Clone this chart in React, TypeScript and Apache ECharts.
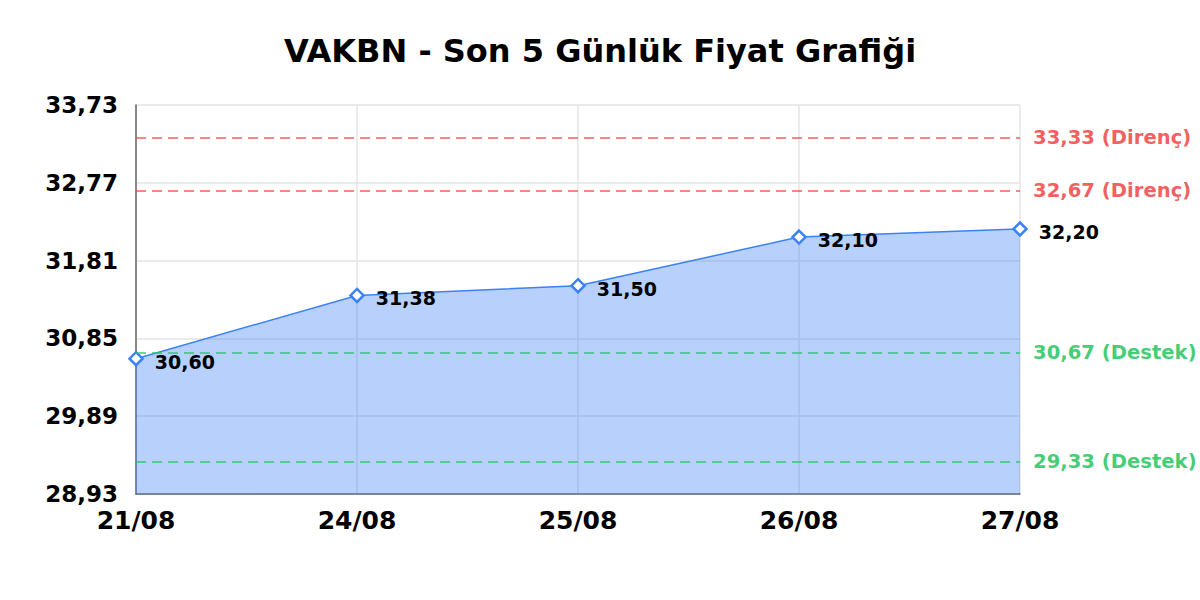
import { useEffect, useRef } from 'react';
import * as echarts from 'echarts';

const DATES = ['21/08', '24/08', '25/08', '26/08', '27/08'];
const PRICES = [30.6, 31.38, 31.5, 32.1, 32.2];
const Y_TICKS = [28.93, 29.89, 30.85, 31.81, 32.77, 33.73];
const RESISTANCE = [33.33, 32.67];
const SUPPORT = [30.67, 29.33];

const FONT = '"DejaVu Sans", sans-serif';
const fmt = (v: number) => v.toFixed(2).replace('.', ',');

export default function App() {
  const chartRef = useRef<HTMLDivElement>(null);

  useEffect(() => {
    if (!chartRef.current) return;
    const chart = echarts.init(chartRef.current, null, { renderer: 'svg' });

    const levelLine = (value: number, color: string, tag: string) => ({
      yAxis: value,
      lineStyle: { color, type: [10, 6], width: 1.5, opacity: 0.85 },
      label: {
        position: 'end',
        distance: 13,
        formatter: `${fmt(value)} (${tag})`,
        color,
        fontFamily: FONT,
        fontWeight: 'bold',
        fontSize: 19.6,
      },
    });

    chart.setOption({
      animation: false,
      backgroundColor: '#fff',
      title: {
        text: 'VAKBN - Son 5 Günlük Fiyat Grafiği',
        left: 'center',
        top: 30,
        textStyle: { fontFamily: FONT, fontWeight: 'bold', fontSize: 32, color: '#000' },
      },
      grid: { left: 136, right: 180, top: 105, bottom: 106 },
      xAxis: {
        type: 'category',
        data: DATES,
        boundaryGap: false,
        axisLine: { lineStyle: { color: '#666', width: 1.5 } },
        axisTick: { show: false },
        axisLabel: {
          fontFamily: FONT,
          fontWeight: 'bold',
          fontSize: 25,
          color: '#000',
          margin: 14,
        },
        splitLine: { show: true, lineStyle: { color: '#e5e5e5', width: 1.5 } },
      },
      yAxis: {
        type: 'value',
        min: Y_TICKS[0],
        max: Y_TICKS[Y_TICKS.length - 1],
        axisLine: { show: true, lineStyle: { color: '#666', width: 1.5 } },
        axisTick: { show: false, customValues: Y_TICKS },
        axisLabel: {
          customValues: Y_TICKS,
          formatter: (v: number) => fmt(v),
          fontFamily: FONT,
          fontWeight: 'bold',
          fontSize: 23,
          color: '#000',
          margin: 18,
        },
        splitLine: { show: true, lineStyle: { color: '#e5e5e5', width: 1.5 } },
      },
      series: [
        {
          type: 'line',
          data: PRICES,
          symbol: 'diamond',
          symbolSize: 13,
          showAllSymbol: true,
          itemStyle: { color: '#fff', borderColor: '#3b82f6', borderWidth: 2.5 },
          lineStyle: { color: '#3b82f6', width: 1.5 },
          areaStyle: { color: 'rgba(59,130,246,0.37)', opacity: 1 },
          label: {
            show: true,
            position: 'right',
            distance: 11,
            offset: [0, 3],
            formatter: (p: any) => fmt(p.value),
            fontFamily: FONT,
            fontWeight: 'bold',
            fontSize: 19,
            color: '#000',
          },
          markLine: {
            silent: true,
            symbol: 'none',
            data: [
              ...RESISTANCE.map((v) => levelLine(v, '#ef4444', 'Direnç')),
              ...SUPPORT.map((v) => levelLine(v, '#22c55e', 'Destek')),
            ],
          },
        },
      ],
    });

    return () => chart.dispose();
  }, []);

  return (
    <div
      ref={chartRef}
      style={{ position: 'absolute', left: 0, top: 0, width: 1200, height: 600 }}
    />
  );
}
